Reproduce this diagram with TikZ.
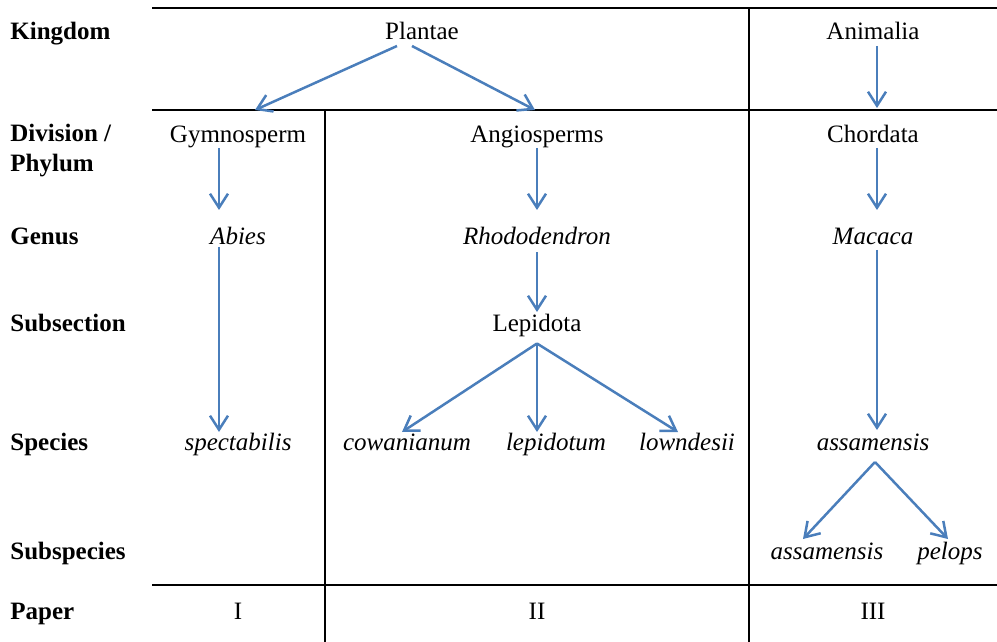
\documentclass[tikz,border=0pt]{standalone}
\usepackage{fontspec}
\setmainfont{Liberation Serif}
\usepackage{tikz}
\usetikzlibrary{arrows.meta,calc}
\definecolor{bluelink}{HTML}{4A7EBB}
\tikzset{every node/.append style={font=\fontsize{12.5}{15}\selectfont,text height=10pt,text depth=2.5pt,inner sep=0pt}}
\begin{document}
\begin{tikzpicture}[x=.5pt,y=-.5pt,>={Straight Barb[length=7pt,width=9pt]},
  rule/.style={line width=1pt},
  link/.style={->,bluelink,line width=1.25pt},
  rank/.style={anchor=west,font=\bfseries\fontsize{12.5}{15}\selectfont},
  taxon/.style={font=\itshape\fontsize{12.5}{15}\selectfont}]
\useasboundingbox (0,0) rectangle (997,642);
\draw[rule] (152,8)--(997,8) (152,110)--(997,110) (152,585)--(997,585);
\draw[rule] (749,8)--(749,642) (325,110)--(325,642);
\node[rank] (kingdom) at (10,32.5) {Kingdom};
\node[rank,align=left,text height={},text depth={}] (division) at (10,151) {Division /\\Phylum};
\node[rank] (genus) at (10,236.5) {Genus};
\node[rank] (subsection) at (10,323.5) {Subsection};
\node[rank] (species) at (10,442.5) {Species};
\node[rank] (subspecies) at (10,551.5) {Subspecies};
\node[rank] (paper) at (10,611.5) {Paper};
\node (plantae) at (422,32.5) {Plantae};
\node (animalia) at (873,32.5) {Animalia};
\node (gym) at (238,135.5) {Gymnosperm};
\node (angio) at (537,135.5) {Angiosperms};
\node (chordata) at (873,135.5) {Chordata};
\node[taxon] (abies) at (238,236.5) {Abies};
\node[taxon] (rhodo) at (537,236.5) {Rhododendron};
\node[taxon] (macaca) at (873,236.5) {Macaca};
\node (lepidota) at (537,323.5) {Lepidota};
\node[taxon] (spect) at (238,442.5) {spectabilis};
\node[taxon] (cowan) at (407,442.5) {cowanianum};
\node[taxon] (lepidotum) at (556,442.5) {lepidotum};
\node[taxon] (lowndesii) at (687,442.5) {lowndesii};
\node[taxon] (assam) at (873,442.5) {assamensis};
\node[taxon] (subassam) at (827,551.5) {assamensis};
\node[taxon] (pelops) at (950,551.5) {pelops};
\node (paperI) at (238,611.5) {I};
\node (paperII) at (537,611.5) {II};
\node (paperIII) at (873,611.5) {III};
\draw[link] ($(plantae)+(-25,13.5)$) -- ($(gym)+(17,-25.5)$);
\draw[link] ($(plantae)+(-10,13.5)$) -- ($(angio)+(-2,-25.5)$);
\draw[link] ($(animalia)+(4,13.5)$) -- ($(chordata)+(4,-27.5)$);
\draw[link] ($(gym)+(-19,12.5)$) -- ($(abies)+(-19,-26.5)$);
\draw[link] ($(angio)+(0,12.5)$) -- ($(rhodo)+(0,-26.5)$);
\draw[link] ($(chordata)+(4,12.5)$) -- ($(macaca)+(4,-26.5)$);
\draw[link] ($(abies)+(-19,10.5)$) -- ($(spect)+(-19,-10.5)$);
\draw[link] ($(rhodo)+(0,15.5)$) -- ($(lepidota)+(0,-11.5)$);
\draw[link] ($(macaca)+(4,13.5)$) -- ($(assam)+(4,-12.5)$);
\draw[link] ($(lepidota)+(0,20)$) -- ($(cowan)+(-5,-10.5)$);
\draw[link] ($(lepidota)+(0,20)$) -- ($(lepidotum)+(-19,-10.5)$);
\draw[link] ($(lepidota)+(0,20)$) -- ($(lowndesii)+(-9,-10.5)$);
\draw[link] ($(assam)+(2,19.5)$) -- ($(subassam)+(-24,-12.5)$);
\draw[link] ($(assam)+(2,19.5)$) -- ($(pelops)+(-2,-12.5)$);
\end{tikzpicture}
\end{document}
